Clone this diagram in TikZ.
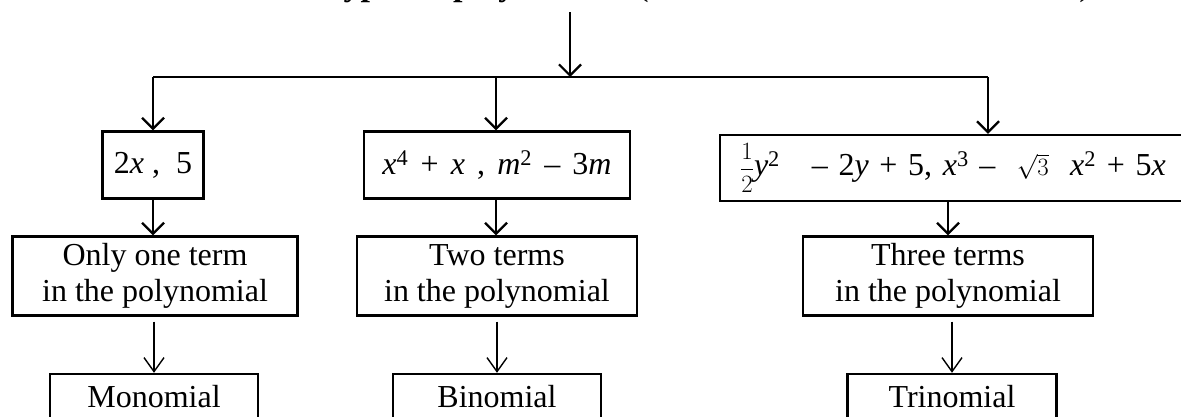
\documentclass[tikz,border=0pt]{standalone}
\usepackage{fontspec}
\setmainfont{Liberation Serif}
\usetikzlibrary{arrows.meta}
\newcommand{\vv}[1]{\textit{#1}}
\newcommand{\gap}{\hspace{0.38em}}

\begin{document}
\begin{tikzpicture}[x=1pt, y=-1pt,
    every node/.style={font=\fontsize{32}{36}\selectfont},
    termbox/.style={draw, line width=2.4pt, inner sep=0pt, align=center},
    link/.style={line width=2.2pt},
    arr/.style={link, -{Straight Barb[length=11pt, width=22pt]}},
    thinarr/.style={line width=1.4pt, -{Straight Barb[length=14pt, width=20pt]}, shorten <=5pt},
]
\useasboundingbox (0,0) rectangle (1181,416);
\clip (0,0) rectangle (1181,416);

% Title (cut by the top edge)
\node[font=\fontsize{34}{40}\selectfont, anchor=base] (title) at (707,-5)
    {\textbf{Types of polynomials} (on the basis of number of terms)};
\coordinate (top) at (570,12);
\coordinate (hub) at (570,77);
\coordinate (b1) at (153,77);
\coordinate (b2) at (496,77);
\coordinate (b3) at (988,77);

% === Examples ===
\node[termbox, minimum width=101pt, minimum height=67pt] (ex1) at (153,165)
    {2\vv{x}\ ,\ \ 5};
\node[termbox, minimum width=266pt, minimum height=67pt] (ex2) at (497,165)
    {\vv{x}\textsuperscript{4}\gap+\gap\vv{x}\gap,\gap\vv{m}\textsuperscript{2}\gap--\gap3\vv{m}};
\node[termbox, minimum width=538pt, minimum height=66pt, anchor=west,
      inner xsep=20pt, text width=498pt, align=left] (ex3) at (719,168)
    {$\displaystyle\frac{1}{2}$\vv{y}\textsuperscript{2}\ \ \ --\ 2\vv{y}\ +\ 5,
     \vv{x}\textsuperscript{3}\ --\ \ $\sqrt{3}$\ \ \vv{x}\textsuperscript{2}\ +\ 5\vv{x}};

% === Number of terms ===
\node[termbox, minimum width=285pt, minimum height=79pt] (one) at (155,276)
    {Only one term\\in the polynomial};
\node[termbox, minimum width=280pt, minimum height=79pt] (two) at (497,276)
    {Two terms\\in the polynomial};
\node[termbox, minimum width=290pt, minimum height=79pt] (three) at (948,276)
    {Three terms\\in the polynomial};

% === Names (cut by the bottom edge) ===
\node[termbox, minimum width=208pt, minimum height=46pt] (mono) at (154,397) {Monomial};
\node[termbox, minimum width=208pt, minimum height=46pt] (bi) at (497,397) {Binomial};
\node[termbox, minimum width=209pt, minimum height=46pt] (tri) at (952,397) {Trinomial};

% connectors
\draw[arr] (top) -- (hub);
\draw[link] (b1) -- (b3);
\draw[arr] (b1) -- (ex1.north);
\draw[arr] (b2) -- (b2 |- ex2.north);
\draw[arr] (b3) -- (b3 |- ex3.north);

\draw[arr] (ex1.south) -- (ex1.south |- one.north);
\draw[arr] (ex2.south -| b2) -- (b2 |- two.north);
\draw[arr] (three.north |- ex3.south) -- (three.north);

\draw[thinarr] (one.south -| mono.north) -- (mono.north);
\draw[thinarr] (two.south -| bi.north) -- (bi.north);
\draw[thinarr] (three.south -| tri.north) -- (tri.north);

\end{tikzpicture}
\end{document}
